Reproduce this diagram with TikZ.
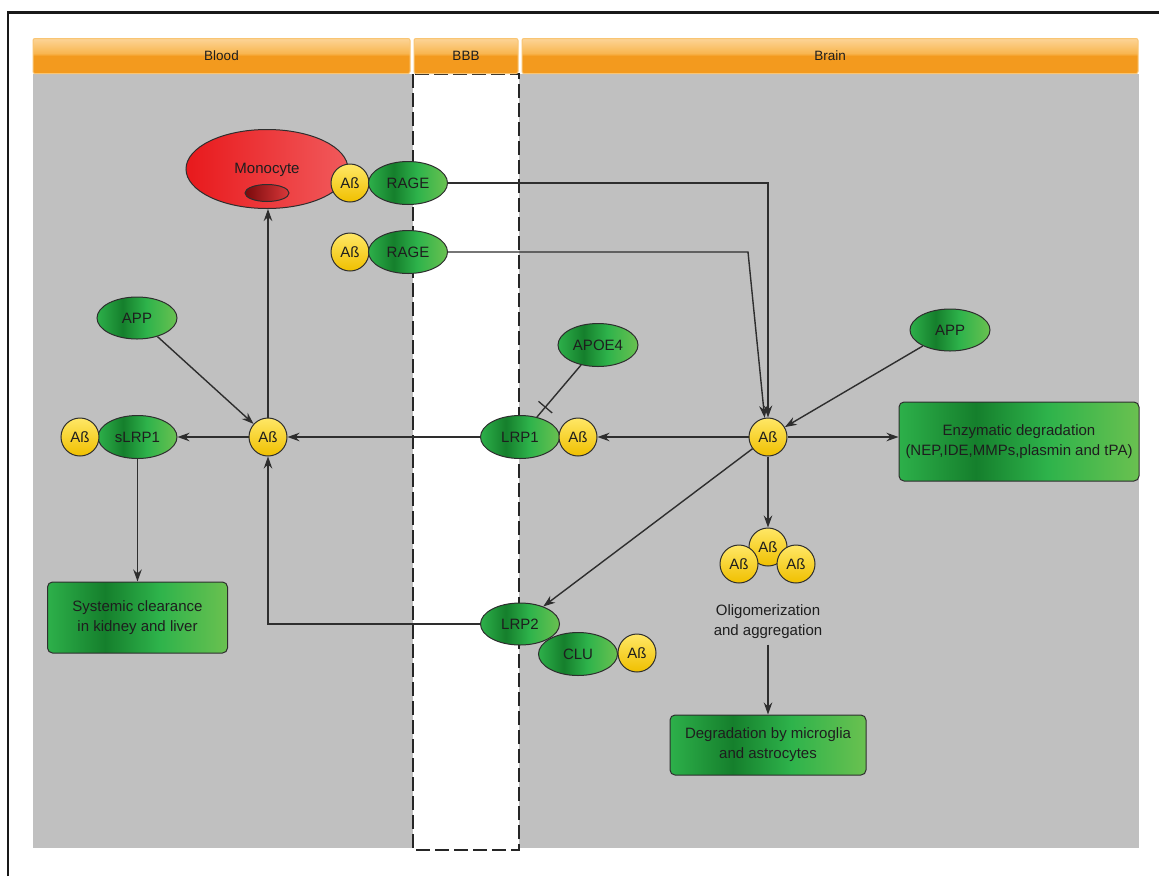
\documentclass[tikz,border=0pt]{standalone}
\usepackage{fontspec}
\setmainfont{Liberation Sans}
\usetikzlibrary{shapes.geometric,arrows.meta,decorations.markings}
\definecolor{gA}{HTML}{2DB04A}
\definecolor{gB}{HTML}{157F2C}
\definecolor{gC}{HTML}{2EB34B}
\definecolor{gD}{HTML}{6AC150}
\definecolor{oB}{HTML}{F39A1E}
\definecolor{oT}{HTML}{FCD497}
\definecolor{oL}{HTML}{F8B650}
\definecolor{yT}{HTML}{FFE766}
\definecolor{yB}{HTML}{F0C000}
\definecolor{rL}{HTML}{E8191C}
\definecolor{rR}{HTML}{F15A5C}
\definecolor{nL}{HTML}{7A0A0C}
\definecolor{nR}{HTML}{D9383A}
\definecolor{panel}{HTML}{C0C0C0}
\definecolor{ink}{HTML}{2E2E2E}
\definecolor{txt}{HTML}{1E1E1E}
\pgfdeclarehorizontalshading{greensh}{100bp}{color(0bp)=(gA); color(25bp)=(gA); color(41bp)=(gB); color(56bp)=(gC); color(75bp)=(gD); color(100bp)=(gD)}
\pgfdeclareverticalshading{orsh}{100bp}{color(0bp)=(oB); color(25bp)=(oB); color(50bp)=(oB); color(54bp)=(oL); color(75bp)=(oT); color(100bp)=(oT)}
\newcommand\myfs{\fontsize{15}{20}\selectfont}
\newcommand\hdfs{\fontsize{13.5}{15}\selectfont}
\tikzset{
  ab/.style={circle, draw=ink, line width=1pt, minimum size=38pt, inner sep=0pt, top color=yT, bottom color=yB, font=\myfs, text=txt},
  prot/.style={ellipse, draw=ink, line width=1pt, minimum width=79pt, minimum height=43pt, inner sep=0pt, shade, shading=greensh, font=\myfs, text=txt},
  gbox/.style={rectangle, rounded corners=5pt, draw=ink, line width=1pt, shade, shading=greensh, font=\myfs, text=txt, align=center, inner sep=0pt},
  hdr/.style={rectangle, rounded corners=2pt, draw=oL!80!white, line width=1pt, shade, shading=orsh, font=\hdfs, text=txt, minimum height=35pt, inner sep=0pt},
  arr/.style={draw=ink, line width=1.4pt, -{Stealth[length=12pt,width=8.5pt]}},
  conn/.style={draw=ink, line width=1.4pt},
}
\begin{document}
\begin{tikzpicture}[x=1pt,y=-1pt]
\useasboundingbox (0,0) rectangle (1159,876);
\fill[white] (0,0) rectangle (1159,876);
% frame
\draw[line width=2.2pt, color=black!90] (7.7,876) -- (7.7,12.5) -- (1159,12.5);
% panels
\fill[panel] (33,74) rectangle (413,848);
\fill[panel] (519,74) rectangle (1139,848);
\draw[black!85, line width=1.8pt, dash pattern=on 14pt off 5pt] (413,74) rectangle (519,850);
% headers
\node[hdr, minimum width=377pt] (hBlood) at (221.5,56) {Blood};
\node[hdr, minimum width=104pt] (hBBB) at (466,56) {BBB};
\node[hdr, minimum width=616pt] (hBrain) at (830,56) {Brain};

% blood side
\node[ellipse, draw=ink, line width=1pt, minimum width=162pt, minimum height=79pt, inner sep=0pt, left color=rL, right color=rR] (mono) at (267,169) {};
\node[font=\myfs, text=txt, inner sep=0pt] (monoT) at (267,170) {Monocyte};
\node[ellipse, draw=ink, line width=1pt, minimum width=44pt, minimum height=17pt, inner sep=0pt, left color=nL, right color=nR] (nuc) at (267,193) {};
\node[ab] (abM) at (350,183) {Aß};
\node[prot] (rage1) at (408,183) {RAGE};
\node[ab] (abR2) at (350,252) {Aß};
\node[prot] (rage2) at (408,252) {RAGE};

\node[prot, minimum width=80pt, minimum height=42pt] (appL) at (137,318) {APP};
\node[ab] (abbl) at (268,437) {Aß};
\node[prot] (slrp1) at (137.5,437) {sLRP1};
\node[ab] (abS) at (80,437) {Aß};
\node[gbox, minimum width=180pt, minimum height=71pt] (sys) at (137.5,617.5) {Systemic clearance\\in kidney and liver};

% BBB
\node[prot, minimum width=80pt] (apoe4) at (598,345) {APOE4};
\node[prot] (lrp1) at (520,437) {LRP1};
\node[ab] (abL1) at (578,437) {Aß};
\node[prot] (clu) at (578,654) {CLU};
\node[prot, minimum height=42pt] (lrp2) at (520,624) {LRP2};
\node[ab] (abC) at (637,653) {Aß};

% brain
\node[prot, minimum width=80pt, minimum height=42pt] (appR) at (950,330) {APP};
\node[ab] (abbr) at (768,437) {Aß};
\node[gbox, minimum width=240pt, minimum height=79pt] (enz) at (1019,441.5) {Enzymatic degradation\\(NEP,IDE,MMPs,plasmin and tPA)};
\node[ab] (abT) at (768,547) {Aß};
\node[ab] (abTL) at (739,564) {Aß};
\node[ab] (abTR) at (796,564) {Aß};
\node[font=\myfs, text=txt, align=center, inner sep=6pt] (olig) at (768,621.5) {Oligomerization\\and aggregation};
\node[gbox, minimum width=196pt, minimum height=60pt] (deg) at (768,745) {Degradation by microglia\\and astrocytes};

% connectors
\coordinate (c2) at (748,252);
\draw[arr] (rage1.east) -| (abbr.north);
\draw[arr] (rage2.east) -- (c2) -- (abbr.100);
\draw[arr] (appR) -- (abbr);
\draw[arr] (abbr.east) -- (abbr.east -| enz.west);
\draw[arr] (abbr.west) -- (abL1.east);
\draw[arr] (lrp1.west) -- (abbl.east);
\draw[arr] (abbl.west) -- (slrp1.east);
\draw[arr] (abbl.north) -- (abbl.north |- mono.south);
\draw[arr] (appL) -- (abbl);
\draw[arr] (slrp1.south) -- (slrp1.south |- sys.north);
\draw[arr] (abbr) -- (lrp2);
\draw[arr] (lrp2.west) -| (abbl.south);
\draw[arr] (abbr.south) -- (abT.north);
\draw[arr] (olig.south) -- (deg.north);
\draw[conn, decoration={markings, mark=at position -13pt with {\draw[ink, line width=1.3pt] (0,-9pt) -- (0,9pt);}}, postaction={decorate}] (apoe4) -- (lrp1);
\end{tikzpicture}
\end{document}
